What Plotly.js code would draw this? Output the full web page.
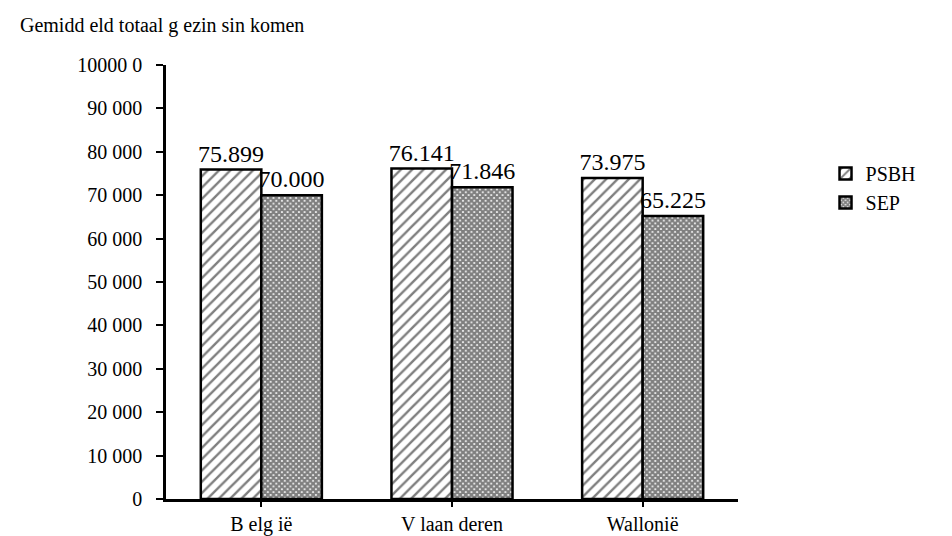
<!DOCTYPE html>
<html>
<head>
<meta charset="utf-8">
<script src="https://cdn.plot.ly/plotly-3.0.1.min.js"></script>
<style>
html,body{margin:0;padding:0;background:#fff;}
#chart{width:952px;height:536px;}
</style>
</head>
<body>
<div id="chart"></div>
<script>
const categories = ["B elg ië", "V laan deren", "Wallonië"];
const psbhValues = [75899, 76141, 73975];
const sepValues = [70000, 71846, 65225];
const psbhLabels = ["75.899", "76.141", "73.975"];
const sepLabels = ["70.000", "71.846", "65.225"];
const yTickVals = [0, 10000, 20000, 30000, 40000, 50000, 60000, 70000, 80000, 90000, 100000];
const yTickText = ["0", "10 000", "20 000", "30 000", "40 000", "50 000", "60 000", "70 000", "80 000", "90 000", "10000 0"];
const font = "Liberation Serif";
const traces = [
  {type: "bar", name: "PSBH", x: categories, y: psbhValues, text: psbhLabels, textposition: "outside", cliponaxis: false, constraintext: "none",
    textfont: {family: font, size: 24, color: "#000"},
    marker: {color: "#fff", line: {color: "#000", width: 2.5}, pattern: {shape: "/", size: 8, solidity: 0.3, fgcolor: "#000", bgcolor: "#fff", fillmode: "overlay"}}},
  {type: "bar", name: "SEP", x: categories, y: sepValues, text: sepLabels, textposition: "outside", cliponaxis: false, constraintext: "none",
    textfont: {family: font, size: 24, color: "#000"},
    marker: {color: "#fff", line: {color: "#000", width: 2.5}, pattern: {shape: "x", size: 4, solidity: 0.8, fgcolor: "#000", bgcolor: "#fff", fillmode: "overlay"}}}
];
const layout = {
  width: 952, height: 536, margin: {l: 166, r: 214, t: 65, b: 37, pad: 0},
  font: {family: font, size: 20, color: "#000"},
  title: {text: "Gemidd eld totaal g ezin sin komen", font: {family: font, size: 20, color: "#000"}, xref: "container", yref: "container", x: 0.021, xanchor: "left", y: 0.953, yanchor: "middle"},
  barmode: "group", bargap: 0.365, bargroupgap: 0, showlegend: true,
  legend: {x: 1.153, xanchor: "left", y: 0.795, yanchor: "top", font: {family: font, size: 20, color: "#000"}},
  xaxis: {type: "category", range: [-0.5, 2.5], showline: true, linecolor: "#000", linewidth: 2.5, ticks: "outside", ticklen: 5, tickwidth: 2, tickcolor: "#000", showgrid: false, zeroline: false, tickfont: {family: font, size: 20, color: "#000"}},
  yaxis: {range: [0, 100000], tickvals: yTickVals, ticktext: yTickText, showline: true, linecolor: "#000", linewidth: 2.5, ticks: "outside", ticklen: 7, tickwidth: 2, tickcolor: "#000", showgrid: false, zeroline: false, ticklabelstandoff: 10, tickfont: {family: font, size: 20, color: "#000"}}
};
Plotly.newPlot("chart", traces, layout, {displayModeBar: false});
</script>
</body>
</html>
